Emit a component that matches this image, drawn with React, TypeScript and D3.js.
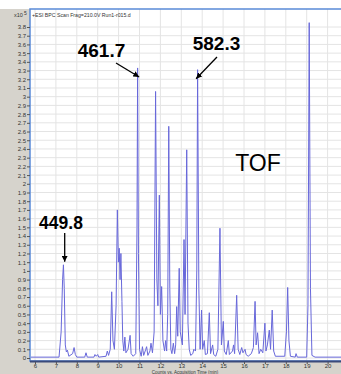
import React, { useEffect, useRef } from 'react';
import * as d3 from 'd3';

// acquisition time (min) and counts (x10^5)
const rt = [
  5.8, 7.15, 7.25, 7.32, 7.36, 7.4, 7.45, 7.5, 7.55, 7.62, 7.8, 7.87, 7.93, 8.0,
  8.38, 8.44, 8.5, 8.82, 8.87, 8.93, 9.0, 9.05, 9.4, 9.46, 9.52, 9.6, 9.67, 9.73,
  9.8, 9.88, 9.94, 9.99, 10.03, 10.07, 10.11, 10.16, 10.2, 10.25, 10.3, 10.35,
  10.45, 10.55, 10.6, 10.7, 10.82, 10.88, 10.91, 10.95, 11.0, 11.08, 11.14, 11.2,
  11.3, 11.34, 11.4, 11.5, 11.55, 11.62, 11.7, 11.77, 11.83, 11.88, 11.95, 12.0,
  12.06, 12.12, 12.2, 12.25, 12.3, 12.35, 12.4, 12.45, 12.5, 12.55, 12.62, 12.68,
  12.73, 12.78, 12.83, 12.9, 12.95, 13.05, 13.13, 13.18, 13.26, 13.32, 13.38,
  13.45, 13.55, 13.6, 13.68, 13.74, 13.78, 13.84, 13.9, 13.97, 14.02, 14.1,
  14.15, 14.25, 14.34, 14.4, 14.5, 14.55, 14.65, 14.75, 14.85, 14.92, 15.01,
  15.06, 15.15, 15.25, 15.3, 15.45, 15.5, 15.55, 15.65, 15.72, 15.8, 15.89,
  15.95, 16.05, 16.1, 16.2, 16.35, 16.45, 16.53, 16.58, 16.65, 16.72, 16.8,
  16.9, 17.0, 17.05, 17.12, 17.21, 17.27, 17.35, 17.42, 17.5, 17.95, 18.03,
  18.09, 18.15, 18.22, 18.45, 18.49, 18.55, 19.0, 19.06, 19.12, 19.18, 19.25,
  19.4, 20.7,
];
const counts = [
  0.01, 0.01, 0.3, 0.9, 1.07, 0.8, 0.15, 0.07, 0.09, 0.02, 0.05, 0.12, 0.04, 0.01,
  0.01, 0.06, 0.01, 0.01, 0.04, 0.02, 0.04, 0.01, 0.02, 0.08, 0.03, 0.1, 0.76, 0.2,
  0.1, 0.6, 1.7, 1.1, 1.26, 0.9, 1.2, 0.65, 0.2, 0.08, 0.24, 0.06,
  0.1, 0.26, 0.05, 0.02, 0.05, 1.5, 3.33, 1.2, 0.1, 0.02, 0.13, 0.03,
  0.1, 0.13, 0.03, 0.08, 0.17, 0.06, 0.3, 3.06, 0.9, 0.6, 1.87, 0.5,
  0.82, 0.2, 0.08, 0.2, 0.08, 0.5, 2.66, 0.8, 0.1, 0.05, 0.17, 0.05,
  0.15, 0.59, 0.25, 1.03, 0.3, 0.15, 1.36, 0.5, 2.39, 0.4, 0.1,
  0.03, 0.05, 0.1, 0.08, 1.0, 3.31, 0.8, 0.1, 0.55, 0.1, 0.2,
  0.04, 0.05, 0.52, 0.05, 0.15, 0.04, 0.02, 0.1, 1.49, 0.15, 0.42,
  0.08, 0.04, 0.2, 0.04, 0.08, 0.15, 0.05, 0.72, 0.1, 0.04, 0.12,
  0.06, 0.1, 0.04, 0.02, 0.05, 0.12, 0.65, 0.15, 0.29, 0.05, 0.1,
  0.06, 0.4, 0.08, 0.15, 0.32, 0.1, 0.55, 0.08, 0.02, 0.02, 0.3,
  0.81, 0.2, 0.02, 0.01, 0.05, 0.01, 0.01, 0.6, 3.85, 0.8, 0.03,
  0.01, 0.01,
];

const xTicks = [6, 7, 8, 9, 10, 11, 12, 13, 14, 15, 16, 17, 18, 19, 20];
const yTicks = d3.range(0, 39).map(i => i / 10);

// annotated peaks: m/z label, time and height of the peak pointed at
const annLabels = ['449.8', '461.7', '582.3'];
const annTimes = [7.36, 10.91, 13.78];
const annValues = [1.07, 3.33, 3.31];

const Chromatogram = () => {
  const ref = useRef<SVGSVGElement>(null);

  useEffect(() => {
    drawChart();
  }, []);

  const drawChart = () => {
    const W = 341, H = 374;
    const left = 30, top = 9, bottom = 361;
    const font = "'Liberation Sans', Arial, sans-serif";

    const root = d3.select(ref.current);
    root.selectAll('*').remove();
    root.attr('width', W).attr('height', H);

    const x = d3.scaleLinear().domain([6, 20]).range([35, 327.6]);
    const y = d3.scaleLinear().domain([0, 3.8]).range([358, 27]);

    // window chrome
    root.append('rect').attr('width', W).attr('height', H).attr('fill', '#ffffff');
    root.append('rect').attr('x', 0).attr('y', top).attr('width', left).attr('height', H - top).attr('fill', '#d6d3cc');
    root.append('rect').attr('x', 0).attr('y', bottom).attr('width', W).attr('height', H - bottom).attr('fill', '#d6d3cc');

    const defs = root.append('defs');
    defs.append('clipPath').attr('id', 'plot-clip')
      .append('rect').attr('x', left).attr('y', top).attr('width', W - left).attr('height', bottom - top);
    defs.append('marker')
      .attr('id', 'arrow')
      .attr('viewBox', '0 0 10 10')
      .attr('refX', 10).attr('refY', 5)
      .attr('markerWidth', 6).attr('markerHeight', 6)
      .attr('markerUnits', 'userSpaceOnUse')
      .attr('orient', 'auto')
      .append('path').attr('d', 'M0,0 L10,5 L0,10 Z').attr('fill', '#000');

    // grid
    const grid = root.append('g');
    grid.selectAll('.hg').data(yTicks).enter().append('line')
      .attr('x1', left).attr('x2', W)
      .attr('y1', d => y(d)).attr('y2', d => y(d))
      .attr('stroke', '#e4e4e4').attr('stroke-width', 1);
    grid.selectAll('.vg').data(xTicks).enter().append('line')
      .attr('x1', d => x(d)).attr('x2', d => x(d))
      .attr('y1', top).attr('y2', bottom)
      .attr('stroke', '#e4e4e4').attr('stroke-width', 1);

    // trace
    const pts: [number, number][] = rt.map((t, i) => [t, counts[i]]);
    const line = d3.line<[number, number]>().x(d => x(d[0])).y(d => y(d[1]));
    root.append('path')
      .datum(pts)
      .attr('clip-path', 'url(#plot-clip)')
      .attr('d', line)
      .attr('fill', 'none')
      .attr('stroke', '#6868da')
      .attr('stroke-width', 1)
      .attr('stroke-linejoin', 'round');

    // frame
    root.append('rect')
      .attr('x', left).attr('y', top)
      .attr('width', W - left + 2).attr('height', bottom - top)
      .attr('fill', 'none').attr('stroke', '#5a8ad8').attr('stroke-width', 1.5);
    root.append('line')
      .attr('x1', left).attr('x2', W).attr('y1', bottom + 0.5).attr('y2', bottom + 0.5)
      .attr('stroke', '#3a4a7a').attr('stroke-width', 2);

    // axes
    const yAxis = root.append('g')
      .attr('transform', `translate(${left},0)`)
      .call(d3.axisLeft(y).tickValues(yTicks).tickSize(3).tickPadding(1)
        .tickFormat(d => String(+(+d).toFixed(1))));
    yAxis.select('.domain').remove();
    yAxis.selectAll('line').attr('stroke', '#555');
    yAxis.selectAll('text').attr('font-size', 6).attr('font-family', font).attr('fill', '#333');

    const xAxis = root.append('g')
      .attr('transform', `translate(0,${bottom + 1})`)
      .call(d3.axisBottom(x).tickValues(xTicks).tickSize(2).tickPadding(0).tickFormat(d3.format('d')));
    xAxis.select('.domain').remove();
    xAxis.selectAll('line').attr('stroke', '#555');
    xAxis.selectAll('text').attr('font-size', 6).attr('font-family', font).attr('fill', '#333');

    root.append('text')
      .attr('x', 185).attr('y', 373.5)
      .attr('text-anchor', 'middle')
      .attr('font-size', 4.5).attr('font-family', font).attr('fill', '#333')
      .text('Counts vs. Acquisition Time (min)');

    // scale factor
    const sf = root.append('text').attr('x', 14).attr('y', 16.5)
      .attr('font-size', 5.5).attr('font-family', font).attr('fill', '#333');
    sf.append('tspan').text('x10');
    sf.append('tspan').attr('dx', 1).attr('dy', -2).attr('font-size', 5).text('5');

    root.append('text')
      .attr('x', 32).attr('y', 16.5)
      .attr('font-size', 5.2).attr('font-family', font).attr('fill', '#333')
      .text('+ESI BPC Scan Frag=210.0V Run1-r015.d');

    // annotations
    const ann = [
      { tx: 61, ty: 229, fs: 17.5, from: [64.7, 233], dx: 0 },
      { tx: 101.5, ty: 56.5, fs: 19, from: [116, 63], dx: 1 },
      { tx: 216.5, ty: 50, fs: 19, from: [217, 57], dx: -1 },
    ];
    annLabels.forEach((lab, i) => {
      const a = ann[i];
      root.append('text')
        .attr('x', a.tx).attr('y', a.ty)
        .attr('text-anchor', 'middle')
        .attr('font-size', a.fs).attr('font-weight', 'bold')
        .attr('font-family', font).attr('fill', '#000')
        .text(lab);
      const px = x(annTimes[i]) + a.dx, py = y(annValues[i]) + (a.dx === 0 ? -3 : 9);
      root.append('line')
        .attr('x1', a.from[0]).attr('y1', a.from[1])
        .attr('x2', a.dx === 0 ? a.from[0] : px + a.dx * 0.5).attr('y2', py)
        .attr('stroke', '#000').attr('stroke-width', 1.3)
        .attr('marker-end', 'url(#arrow)');
    });

    root.append('text')
      .attr('x', 258).attr('y', 171)
      .attr('text-anchor', 'middle')
      .attr('font-size', 23).attr('font-family', font).attr('fill', '#000')
      .text('TOF');
  };

  return <svg ref={ref} style={{ position: 'absolute', left: 0, top: 0 }} />;
};

export default function App() {
  return <Chromatogram />;
}
